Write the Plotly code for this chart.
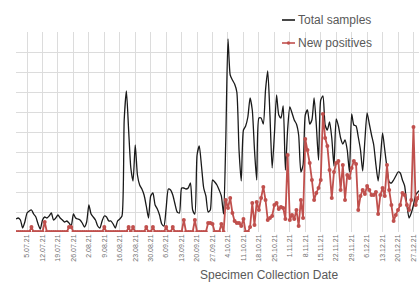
import pandas as pd
import plotly.graph_objects as go

start_date = "2021-06-30"

total_samples = [
    65, 70, 60, 20, 50, 95, 105, 110, 90, 75, 40, 15, 60, 75, 70, 80, 95, 60, 70, 85,
    70, 60, 50, 55, 45, 30, 90, 70, 65, 60, 45, 25, 50, 135, 90, 75, 60, 30, 20, 55,
    80, 75, 55, 55, 40, 20, 55, 65, 80, 560, 705, 510, 320, 255, 435, 285, 235, 215, 185, 130,
    70, 180, 195, 135, 115, 85, 40, 30, 120, 215, 210, 185, 140, 100, 95, 220, 220, 215, 220, 245,
    110, 90, 385, 430, 330, 220, 180, 100, 110, 260, 250, 235, 210, 180, 90, 460, 965, 785, 760, 740,
    700, 410, 255, 510, 530, 575, 670, 610, 410, 260, 570, 570, 540, 710, 805, 585, 320, 485, 685, 585,
    570, 630, 310, 510, 625, 595, 560, 540, 485, 300, 335, 585, 610, 540, 560, 670, 535, 360, 660, 680,
    535, 510, 550, 470, 330, 565, 530, 470, 440, 460, 410, 300, 590, 535, 530, 475, 410, 305, 460, 595,
    540, 485, 435, 335, 255, 360, 495, 410, 320, 250, 245, 260, 280, 300, 295, 260, 230, 135, 70, 95,
    135, 185, 200, 210,
]

new_positives = [
    0, 0, 0, 0, 0, 0, 0, 25, 0, 0, 0, 0, 0, 50, 0, 0, 0, 0, 0, 0,
    0, 0, 0, 0, 25, 25, 0, 0, 0, 0, 0, 0, 0, 0, 0, 0, 0, 0, 0, 0,
    25, 0, 0, 0, 0, 0, 0, 0, 0, 0, 0, 25, 0, 25, 0, 0, 0, 0, 0, 25,
    0, 0, 25, 0, 0, 0, 0, 0, 25, 0, 0, 25, 0, 0, 0, 0, 60, 0, 0, 0,
    0, 60, 0, 0, 0, 0, 0, 45, 45, 40, 0, 0, 0, 40, 0, 160, 120, 170, 95, 55,
    45, 45, 30, 65, 0, 0, 25, 145, 35, 150, 110, 170, 225, 160, 60, 70, 80, 135, 145, 115,
    125, 120, 65, 385, 60, 85, 65, 110, 30, 160, 70, 465, 410, 345, 260, 160, 195, 220, 260, 590,
    470, 430, 310, 170, 300, 345, 355, 210, 335, 160, 285, 270, 320, 355, 340, 110, 180, 210, 190, 230,
    210, 185, 185, 200, 90, 185, 220, 180, 335, 210, 135, 55, 85, 110, 135, 195, 185, 135, 110, 160,
    525, 135, 170, 185,
]

tick_labels = [
    "5.07.21", "12.07.21", "19.07.21", "26.07.21", "2.08.21", "9.08.21", "16.08.21",
    "23.08.21", "30.08.21", "6.09.21", "13.09.21", "20.09.21", "27.09.21", "4.10.21",
    "11.10.21", "18.10.21", "25.10.21", "1.11.21", "8.11.21", "15.11.21", "22.11.21",
    "29.11.21", "6.12.21", "13.12.21", "20.12.21", "27.12.21",
]

series_names = ["Total samples", "New positives"]

dates = pd.date_range(start_date, periods=len(total_samples), freq="D")
tick_vals = [pd.to_datetime(t, format="%d.%m.%y") for t in tick_labels]

W, H = 419, 282
L, R, T, B = 16, 0, 32, 50
pw, ph = W - L - R, H - T - B

def px_x(x):
    return (x - L) / pw

def px_y(y):
    return (H - B - y) / ph

FONT = "Liberation Sans, Arial, sans-serif"
TXT = "#595959"
GRID = "#dcdcdc"
BLACK = "#1a1a1a"
RED = "#c0504d"

fig = go.Figure()
fig.add_trace(go.Scatter(
    x=dates, y=total_samples, name=series_names[0], mode="lines",
    line=dict(color=BLACK, width=1.3, shape="spline", smoothing=0.6),
))
fig.add_trace(go.Scatter(
    x=dates, y=new_positives, name=series_names[1], mode="lines+markers",
    line=dict(color=RED, width=1.8),
    marker=dict(color=RED, size=4),
))

# legend drawn as key lines + text labels (keeps the plot area at its reference size)
legend_rows = [(series_names[0], BLACK, 20, False), (series_names[1], RED, 43, True)]
shapes = [dict(type="rect", xref="paper", yref="paper",
               x0=px_x(243), x1=px_x(410), y0=px_y(54), y1=1.0,
               fillcolor="white", line=dict(width=0), layer="between")]
annotations = []
for name, col, yy, mk in legend_rows:
    shapes.append(dict(type="line", xref="paper", yref="paper",
                       x0=px_x(282), x1=px_x(295), y0=px_y(yy), y1=px_y(yy),
                       line=dict(color=col, width=1.6), layer="above"))
    if mk:
        shapes.append(dict(type="circle", xref="paper", yref="paper",
                           x0=px_x(286.8), x1=px_x(290.2), y0=px_y(yy + 1.7), y1=px_y(yy - 1.7),
                           fillcolor=col, line=dict(width=0), layer="above"))
    annotations.append(dict(text=name, xref="paper", yref="paper",
                            x=px_x(296), y=px_y(yy), xanchor="left", yanchor="middle",
                            showarrow=False, font=dict(size=12, color=TXT, family=FONT)))

annotations.append(dict(text="Specimen Collection Date", xref="paper", yref="paper",
                        x=px_x(268.5), y=px_y(275), xanchor="center", yanchor="middle",
                        showarrow=False, font=dict(size=12, color=TXT, family=FONT)))

fig.update_layout(
    width=W, height=H,
    margin=dict(l=L, r=R, t=T, b=B, autoexpand=False),
    paper_bgcolor="white", plot_bgcolor="white",
    font=dict(family=FONT, color=TXT),
    showlegend=False,
    xaxis=dict(
        type="date",
        range=["2021-06-30", "2021-12-29 12:00"],
        tickmode="array", tickvals=tick_vals, ticktext=tick_labels,
        tickangle=-90, tickfont=dict(size=7, color="#6f6f6f", family=FONT),
        showgrid=True, gridcolor=GRID, gridwidth=1,
        zeroline=False, showline=False, ticks="",
    ),
    yaxis=dict(
        range=[0, 1000], dtick=100, tick0=0,
        showticklabels=False, showgrid=True, gridcolor=GRID, gridwidth=1,
        zeroline=False, showline=False, ticks="",
    ),
    shapes=shapes,
    annotations=annotations,
)

fig.write_html("out.html", config={"displayModeBar": False},
               post_script="document.body.style.margin='0';")
